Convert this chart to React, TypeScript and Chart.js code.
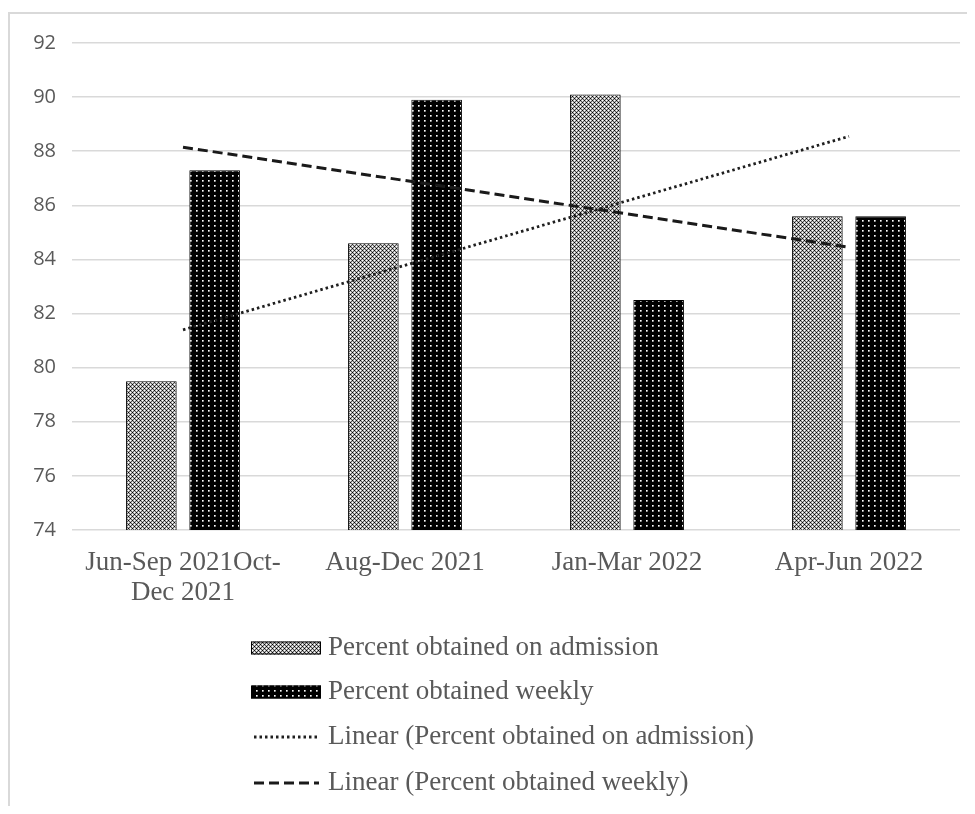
import React, { useEffect, useRef } from "react";
import { Chart, registerables } from "chart.js";

Chart.register(...registerables);

// ---- data ----
const categories: (string | string[])[] = [
  ["Jun-Sep 2021Oct-", "Dec 2021"],
  "Aug-Dec 2021",
  "Jan-Mar 2022",
  "Apr-Jun 2022",
];
const admissionValues = [79.5, 84.6, 90.1, 85.6];
const weeklyValues = [87.3, 89.9, 82.5, 85.6];
// trend lines (first and last category)
const admissionTrend = [81.4, null, null, 88.55];
const weeklyTrend = [88.15, null, null, 84.45];
const seriesNames = [
  "Percent obtained on admission",
  "Percent obtained weekly",
  "Linear (Percent obtained on admission)",
  "Linear (Percent obtained weekly)",
];
const yMin = 74;
const yMax = 92;
const yStep = 2;

const TEXT = "#595959";
const GRID = "#d9d9d9";

function tilePattern(rows: string[], palette: Record<string, string>): CanvasPattern {
  const h = rows.length;
  const w = rows[0].length;
  const c = document.createElement("canvas");
  c.width = w;
  c.height = h;
  const t = c.getContext("2d")!;
  for (let y = 0; y < h; y++) {
    for (let x = 0; x < w; x++) {
      t.fillStyle = palette[rows[y][x]];
      t.fillRect(x, y, 1, 1);
    }
  }
  const p = t.createPattern(c, "repeat")!;
  return p;
}

const framePlugin = {
  id: "frame",
  beforeDraw(chart: any) {
    const ctx = chart.ctx as CanvasRenderingContext2D;
    ctx.save();
    ctx.strokeStyle = GRID;
    ctx.lineWidth = 2;
    ctx.beginPath();
    ctx.moveTo(1, chart.height);
    ctx.lineTo(1, 5);
    ctx.lineTo(chart.width, 5);
    ctx.stroke();
    ctx.restore();
  },
};

const legendPlugin = {
  id: "customLegend",
  afterDraw(chart: any) {
    const ctx = chart.ctx as CanvasRenderingContext2D;
    const x0 = 243;
    const boxW = 70;
    const boxH = 13;
    const textX = 320;
    const rowYs = [640, 684, 729, 775];
    ctx.save();
    chart.data.datasets.forEach((ds: any, i: number) => {
      const y = rowYs[i];
      if (ds.type === "bar") {
        ctx.fillStyle = ds.backgroundColor;
        ctx.fillRect(x0, y - boxH / 2, boxW, boxH);
        ctx.strokeStyle = "#000";
        ctx.lineWidth = 1;
        ctx.setLineDash([]);
        ctx.strokeRect(x0 + 0.5, y - boxH / 2 + 0.5, boxW - 1, boxH - 1);
      } else {
        ctx.strokeStyle = ds.borderColor;
        ctx.lineWidth = ds.borderWidth;
        ctx.setLineDash(ds.borderDash || []);
        ctx.beginPath();
        ctx.moveTo(x0 + 3, y);
        ctx.lineTo(x0 + boxW - 2, y);
        ctx.stroke();
      }
      ctx.setLineDash([]);
      ctx.fillStyle = TEXT;
      ctx.font = '27px "Liberation Serif"';
      ctx.textBaseline = "middle";
      ctx.textAlign = "left";
      ctx.fillText(ds.label, textX, y);
    });
    ctx.restore();
  },
};

export default function App() {
  const ref = useRef<HTMLCanvasElement | null>(null);

  useEffect(() => {
    if (!ref.current) return;
    const admissionPattern = tilePattern(
      ["KLWL", "LDLD", "WLKL", "LDLD"],
      { K: "#000000", D: "#555555", L: "#bdbdbd", W: "#ffffff" }
    );
    const weeklyPattern = tilePattern(
      ["KKKKKK", "KKKKKK", "KKWgKK", "KKgdKK", "KKKKKK"],
      { K: "#000000", W: "#ffffff", g: "#a8a8a8", d: "#6a6a6a" }
    );

    const chart = new Chart(ref.current, {
      type: "bar",
      data: {
        labels: categories as any,
        datasets: [
          {
            type: "bar",
            label: seriesNames[0],
            data: admissionValues,
            backgroundColor: admissionPattern as any,
            borderColor: "#000000",
            borderWidth: 1,
            categoryPercentage: 0.57,
            barPercentage: 0.8,
            order: 2,
          },
          {
            type: "bar",
            label: seriesNames[1],
            data: weeklyValues,
            backgroundColor: weeklyPattern as any,
            borderColor: "#000000",
            borderWidth: 1,
            categoryPercentage: 0.57,
            barPercentage: 0.8,
            order: 2,
          },
          {
            type: "line",
            label: seriesNames[2],
            data: admissionTrend as any,
            borderColor: "#1f1f1f",
            borderWidth: 2.8,
            borderDash: [2.5, 3],
            pointRadius: 0,
            spanGaps: true,
            fill: false,
            order: 0,
          } as any,
          {
            type: "line",
            label: seriesNames[3],
            data: weeklyTrend as any,
            borderColor: "#1a1a1a",
            borderWidth: 3,
            borderDash: [10, 5],
            pointRadius: 0,
            spanGaps: true,
            fill: false,
            order: 0,
          } as any,
        ],
      },
      options: {
        animation: false,
        responsive: false,
        layout: { padding: { left: 2, right: 7, top: 35, bottom: 0 } },
        plugins: {
          legend: { display: false },
          tooltip: { enabled: false },
        },
        scales: {
          x: {
            grid: { display: false },
            border: { display: false },
            ticks: {
              color: TEXT,
              font: { family: "Liberation Serif", size: 27, lineHeight: 1.1 },
              maxRotation: 0,
              autoSkip: false,
              padding: 10,
            },
            afterFit: (s: any) => {
              s.height = 276;
            },
          },
          y: {
            min: yMin,
            max: yMax,
            grid: { color: GRID, lineWidth: 1.5, drawTicks: false },
            border: { display: false },
            ticks: {
              stepSize: yStep,
              color: TEXT,
              font: { family: "Open Sans", size: 20 },
              padding: 16,
            },
            afterFit: (s: any) => {
              s.width = 62;
            },
          },
        },
      },
      plugins: [framePlugin, legendPlugin],
    });
    return () => chart.destroy();
  }, []);

  return (
    <div style={{ width: 959, height: 798 }}>
      <canvas ref={ref} width={959} height={798} style={{ display: "block" }} />
    </div>
  );
}
